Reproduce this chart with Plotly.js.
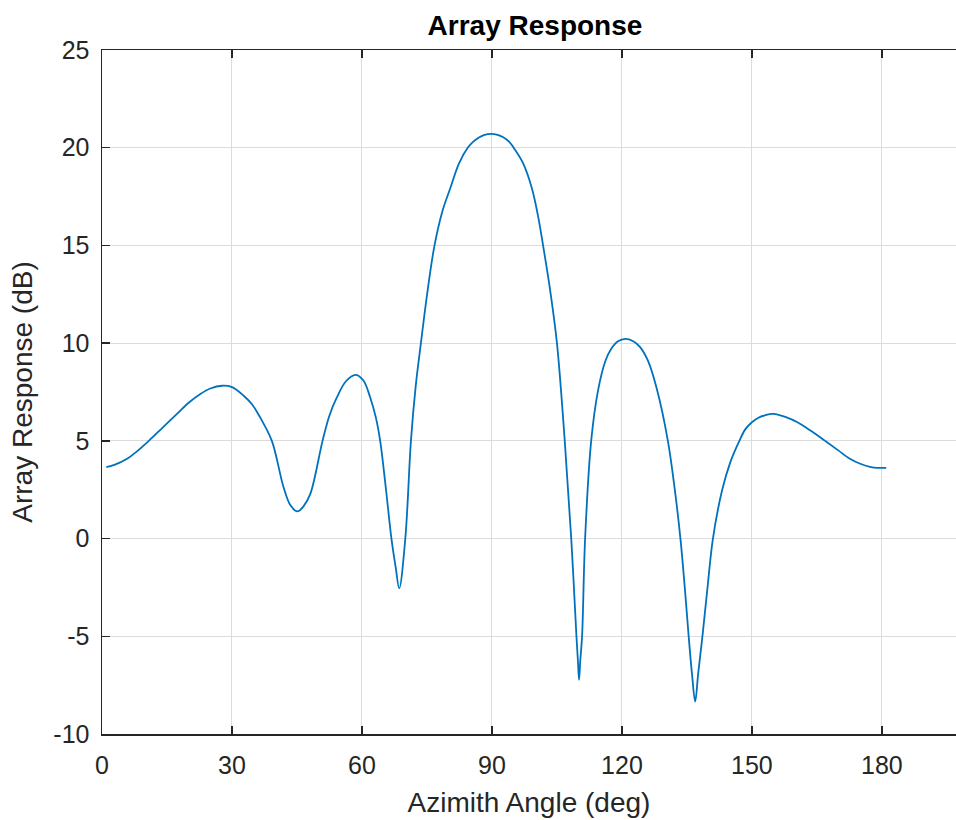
<!DOCTYPE html>
<html>
<head>
<meta charset="utf-8">
<script src="https://cdn.plot.ly/plotly-3.0.1.min.js"></script>
<style>html,body{margin:0;padding:0;background:#fff;}#chart{width:956px;height:820px;}</style>
</head>
<body>
<div id="chart"></div>
<script>
// Azimuth angle (deg) and array response (dB)
const azimuthDeg = [
  1, 3, 5.8, 8, 10.8, 14, 17.3, 20, 22.7, 25, 27.7, 30, 32.7, 34.7, 36.5, 39.2,
  41.9, 43.5, 45.1, 46.5, 48.1, 50.9, 52.5, 54.2, 56.3, 58.5, 60.3, 61.9, 63.2,
  64.2, 65.5, 66.8, 67.8, 68.6, 70.0, 71.3, 72.4, 73.6, 75.0, 76.7, 78.5,
  80.4, 82.4, 84.4, 85.7, 87, 88.3, 89.8, 91.3, 92.5, 94, 95, 97.2, 99.2, 100.6,
  101.8, 103.5, 105.0,
  106.8, 108.3, 109.5, 109.85, 110.1, 110.4, 110.8, 111.5, 112.9, 114.5, 116.2,
  117.5, 119, 120.8, 122.6, 124.2, 126, 128, 130.6, 132.2, 133.5, 134.5, 135.4,
  136.2, 136.9,
  137.6, 138.7, 139.8, 141.0, 143.1, 145.0, 147.1, 148.5, 150, 151.5, 153, 155, 158,
  160.5, 163.5, 166.9, 170, 172.5, 175, 177.5, 179, 181
];
const responseDb = [
  3.65, 3.78, 4.08, 4.45, 5.0, 5.68, 6.38, 6.95, 7.40, 7.68, 7.82, 7.75, 7.31, 6.85, 6.2, 5.0,
  2.63, 1.7, 1.39, 1.65, 2.3, 5.0, 6.3, 7.22, 8.05, 8.38, 8.1, 7.22, 6.2,
  5.0, 2.6, 0, -1.5, -2.55, 0, 5.0, 7.8, 10, 12.45, 14.95, 16.7,
  17.94, 19.2, 20.0, 20.31, 20.52, 20.66, 20.71, 20.66, 20.55, 20.3, 20.0, 19.2, 17.94, 16.55,
  15, 12.6, 10,
  5, 0, -5, -6.3, -7.23, -6.2, -5, 0, 5, 7.6, 9.1,
  9.7, 10.08, 10.22, 10.1, 9.8, 9.1, 7.7, 5, 2.5, 0, -2.5, -5,
  -7, -8.34,
  -6.9, -4.75, -2.4, 0, 2.46, 3.9, 5.0, 5.6, 5.95, 6.18, 6.31, 6.38, 6.2,
  5.95, 5.53, 5.0, 4.5, 4.1, 3.83, 3.66, 3.62, 3.62
];
const xTickVals = [0, 30, 60, 90, 120, 150, 180];
const xTickText = ["0", "30", "60", "90", "120", "150", "180"];
const yTickVals = [-10, -5, 0, 5, 10, 15, 20, 25];
const yTickText = ["-10", "-5", "0", "5", "10", "15", "20", "25"];

const FONT = '"Liberation Sans", Arial, Helvetica, sans-serif';
const AXC = '#262626';

const trace = {
  x: azimuthDeg, y: responseDb, type: 'scatter', mode: 'lines',
  line: {color: '#0072BD', width: 1.8, shape: 'spline', smoothing: 1.0}, hoverinfo: 'x+y'
};

const layout = {
  width: 956, height: 820,
  margin: {l: 102, r: 0, t: 50, b: 86, pad: 0},
  paper_bgcolor: '#ffffff', plot_bgcolor: '#ffffff',
  showlegend: false,
  font: {family: FONT, color: AXC, size: 24},
  title: {
    text: '<b>Array Response</b>',
    font: {family: FONT, size: 28, color: '#000000'},
    xref: 'paper', x: 0.507, xanchor: 'center',
    yref: 'container', y: 1 - 25/820, yanchor: 'middle'
  },
  xaxis: {
    range: [0, 197.1], autorange: false,
    tickvals: xTickVals, ticktext: xTickText,
    ticks: 'inside', ticklen: 8, tickwidth: 1.5, tickcolor: AXC,
    showline: true, linecolor: AXC, linewidth: 1.5, mirror: 'ticks',
    showgrid: true, gridcolor: '#dcdcdc', gridwidth: 1,
    zeroline: false,
    tickfont: {family: FONT, size: 25, color: AXC},
    ticklabelstandoff: 8,
    title: {text: 'Azimith Angle (deg)', font: {family: FONT, size: 28, color: AXC}, standoff: 15}
  },
  yaxis: {
    range: [-10, 25], autorange: false,
    tickvals: yTickVals, ticktext: yTickText,
    ticks: 'inside', ticklen: 8, tickwidth: 1.5, tickcolor: AXC,
    showline: true, linecolor: AXC, linewidth: 1.5, mirror: false,
    showgrid: true, gridcolor: '#dcdcdc', gridwidth: 1,
    zeroline: false,
    tickfont: {family: FONT, size: 25, color: AXC},
    ticklabelstandoff: 6,
    title: {text: 'Array Response (dB)', font: {family: FONT, size: 28, color: AXC}, standoff: 12}
  }
};

Plotly.newPlot('chart', [trace], layout, {displayModeBar: false, staticPlot: true});
</script>
</body>
</html>
